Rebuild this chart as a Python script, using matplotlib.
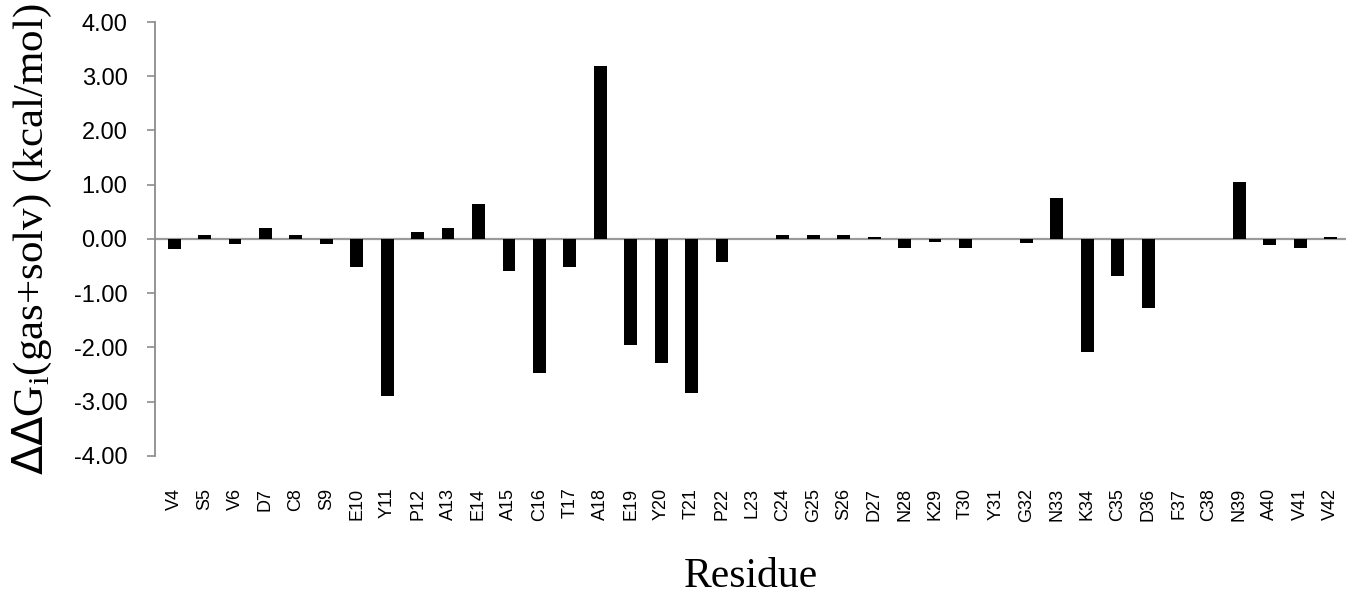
import numpy as np
import matplotlib
matplotlib.use("Agg")
import matplotlib.pyplot as plt

# residue labels and per-residue energy contributions (kcal/mol)
residues = ["V4", "S5", "V6", "D7", "C8", "S9", "E10", "Y11", "P12", "A13",
            "E14", "A15", "C16", "T17", "A18", "E19", "Y20", "T21", "P22", "L23",
            "C24", "G25", "S26", "D27", "N28", "K29", "T30", "Y31", "G32", "N33",
            "K34", "C35", "D36", "F37", "C38", "N39", "A40", "V41", "V42"]
ddg = [-0.19, 0.08, -0.10, 0.20, 0.08, -0.10, -0.51, -2.89, 0.13, 0.20,
       0.64, -0.59, -2.48, -0.51, 3.18, -1.96, -2.28, -2.85, -0.43, 0.0,
       0.08, 0.08, 0.08, 0.04, -0.16, -0.05, -0.16, 0.0, -0.07, 0.76,
       -2.09, -0.68, -1.28, 0.0, 0.0, 1.05, -0.11, -0.16, 0.04]
y_ticks = [4, 3, 2, 1, 0, -1, -2, -3, -4]

fig = plt.figure(figsize=(13.5, 5.95), dpi=100)
ax = fig.add_axes([0.115, 0.234, 0.882, 0.729])

x = np.arange(len(residues))
ax.bar(x, ddg, width=0.42, color="black", zorder=3)
ax.axhline(0, color="#9a9a9a", lw=1.6, zorder=2)

ax.set_ylim(-4, 4)
ax.set_xlim(-0.62, len(residues) - 0.5)
ax.set_yticks(y_ticks)
ax.set_yticklabels([f"{v:.2f}" for v in y_ticks], fontsize=17,
                   family="Liberation Sans")
ax.set_xticks(x)
ax.set_xticklabels(residues, rotation=90, fontsize=13,
                   family="Liberation Sans")

for side in ["top", "right", "bottom"]:
    ax.spines[side].set_visible(False)
ax.spines["left"].set_color("#8c8c8c")
ax.spines["left"].set_linewidth(1.3)
ax.tick_params(axis="y", direction="out", length=6, width=1.2,
               color="#8c8c8c", pad=14)
ax.tick_params(axis="x", length=0, pad=23)

ax.set_ylabel(r"$\Delta\Delta$G$_\mathregular{i}$(gas+solv) (kcal/mol)",
              fontsize=31, family="Liberation Serif", labelpad=14)
ax.set_xlabel("Residue", fontsize=30, family="Liberation Serif", labelpad=26)

fig.savefig("out.png", dpi=100)
